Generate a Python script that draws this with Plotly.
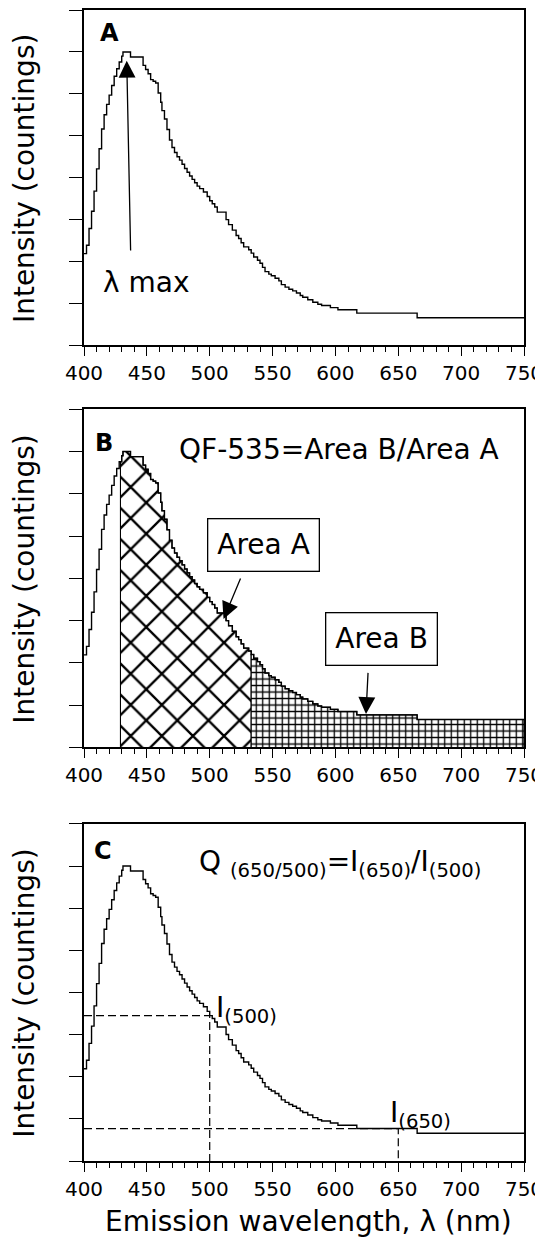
import plotly.graph_objects as go

# ---------------- data ----------------
wavelength_nm = [400, 402, 404, 406, 408, 410, 412, 414, 416, 418, 420, 422, 424, 426, 428,
                 430, 431, 437, 447, 449, 451, 453, 455, 457, 459, 461, 462, 464, 466, 468,
                 470, 472, 474, 476, 478, 480, 482, 484, 486, 488, 490, 492, 495, 498, 500,
                 502, 504, 506, 513, 515, 518, 521, 523, 525, 527, 531, 533, 535, 538, 540,
                 542, 544, 547, 549, 552, 555, 557, 560, 563, 566, 569, 572, 574, 578, 582,
                 586, 589, 596, 602, 617, 665, 750]
intensity = [2.19, 2.39, 2.79, 3.20, 3.68, 4.21, 4.69, 5.16, 5.50, 5.75, 5.97, 6.20, 6.42, 6.60, 6.76,
             6.90, 7.00, 6.88, 6.68, 6.58, 6.48, 6.34, 6.30, 6.26, 6.02, 5.80, 5.60, 5.40, 5.15, 4.90,
             4.72, 4.60, 4.50, 4.42, 4.32, 4.22, 4.13, 4.04, 3.96, 3.88, 3.80, 3.74, 3.66, 3.55, 3.45,
             3.38, 3.30, 3.18, 3.00, 2.88, 2.75, 2.62, 2.55, 2.45, 2.35, 2.28, 2.20, 2.11, 2.03, 1.96,
             1.86, 1.76, 1.70, 1.66, 1.60, 1.54, 1.45, 1.39, 1.34, 1.30, 1.25, 1.19, 1.15, 1.09, 1.03,
             0.98, 0.95, 0.90, 0.85, 0.77, 0.66, 0.66]

x_tick_values = [400, 450, 500, 550, 600, 650, 700, 750]
x_tick_labels = ["400", "450", "500", "550", "600", "650", "700", "750"]

area_a_start_nm = 429
area_split_nm = 533
area_b_end_nm = 750
ratio_low_nm = 500
ratio_high_nm = 650
lambda_max_nm = 434

FONT = "DejaVu Sans"


def value_at(nm):
    v = intensity[0]
    for w, y in zip(wavelength_nm, intensity):
        if w <= nm:
            v = y
        else:
            break
    return v


def region(lo, hi):
    xs = [lo] + [w for w in wavelength_nm if lo < w < hi] + [hi]
    ys = [value_at(x) for x in xs]
    return [lo] + xs + [hi], [0] + ys + [0]


fig = go.Figure()

curve_style = dict(mode="lines", line=dict(color="black", width=1.4, shape="hv"),
                   showlegend=False, hoverinfo="skip")

# Panel B hatched areas
ax_, ay_ = region(area_a_start_nm, area_split_nm)
fig.add_trace(go.Scatter(x=ax_, y=ay_, xaxis="x2", yaxis="y2", mode="lines",
                         line=dict(color="black", width=1.1, shape="hv"),
                         fill="toself", fillcolor="white",
                         fillpattern=dict(shape="x", size=22, solidity=0.2, fgopacity=1,
                                          fgcolor="black", bgcolor="white", fillmode="replace"),
                         showlegend=False, hoverinfo="skip"))
bx_, by_ = region(area_split_nm, area_b_end_nm)
fig.add_trace(go.Scatter(x=bx_, y=by_, xaxis="x2", yaxis="y2", mode="lines",
                         line=dict(color="black", width=1.1, shape="hv"),
                         fill="toself", fillcolor="white",
                         fillpattern=dict(shape="+", size=6.5, solidity=0.36, fgopacity=1,
                                          fgcolor="black", bgcolor="white", fillmode="replace"),
                         showlegend=False, hoverinfo="skip"))

# Spectra
for xa, ya in (("x", "y"), ("x2", "y2"), ("x3", "y3")):
    fig.add_trace(go.Scatter(x=wavelength_nm, y=intensity, xaxis=xa, yaxis=ya, **curve_style))

# Panel C dashed guides
i500 = value_at(ratio_low_nm)
i650 = value_at(ratio_high_nm)
dash = dict(color="black", width=1.2, dash="8px,4px")
for nm, val in ((ratio_low_nm, i500), (ratio_high_nm, i650)):
    fig.add_trace(go.Scatter(x=[wavelength_nm[0], nm, nm], y=[val, val, 0], xaxis="x3", yaxis="y3",
                             mode="lines", line=dash, showlegend=False, hoverinfo="skip"))

# ---------------- layout ----------------
# The page body has an 8 px margin, so the figure is drawn 8 px smaller and offset.
W, H = 535, 1231
ML, MR, MT, MB = 76, 16, 0, 78
PAGE_OFF = 8
PLOT_L = ML + PAGE_OFF          # page x of the plot's left edge
PLOT_W = W - ML - MR

domains = {"y": [0.7086, 1.0], "y2": [0.3593, 0.6531], "y3": [0.0, 0.2929]}

xaxis_style = dict(range=[400, 750], tickvals=x_tick_values, ticktext=x_tick_labels,
                   ticks="outside", ticklen=9, tickwidth=1.3, tickcolor="black",
                   minor=dict(ticks="outside", ticklen=5, tickwidth=1.1, dtick=10, tick0=400,
                              tickcolor="black"),
                   showline=True, linewidth=1.8, linecolor="black", mirror=True,
                   showgrid=False, zeroline=False, ticklabeloverflow="allow",
                   tickfont=dict(family=FONT, size=20, color="black"))
yaxis_style = dict(range=[0, 8], tick0=0, dtick=1, ticks="outside", ticklen=13, tickwidth=1.3,
                   tickcolor="black", showticklabels=False, showline=True, linewidth=1.5,
                   linecolor="black", mirror=True, showgrid=False, zeroline=False)

layout = dict(width=W, height=H, margin=dict(l=ML, r=MR, t=MT, b=MB, pad=0),
              paper_bgcolor="white", plot_bgcolor="white", showlegend=False,
              font=dict(family=FONT, color="black"))
layout["xaxis"] = dict(xaxis_style, anchor="y")
layout["xaxis2"] = dict(xaxis_style, anchor="y2")
layout["xaxis3"] = dict(xaxis_style, anchor="y3")
layout["yaxis"] = dict(yaxis_style, domain=domains["y"], anchor="x")
layout["yaxis2"] = dict(yaxis_style, domain=domains["y2"], anchor="x2")
layout["yaxis3"] = dict(yaxis_style, domain=domains["y3"], anchor="x3")
fig.update_layout(**layout)

big = dict(family=FONT, size=28, color="black")
ann = []

# Panel letters
for xr, yr, letter, xv, yv in (("x", "y", "A", 420.5, 7.45), ("x2", "y2", "B", 415.6, 7.21),
                               ("x3", "y3", "C", 415.0, 7.35)):
    ann.append(dict(xref=xr, yref=yr, x=xv, y=yv, text="<b>%s</b>" % letter, showarrow=False,
                    font=dict(family=FONT, size=24, color="black"),
                    xanchor="center", yanchor="middle"))

# y titles
for yr, dom in domains.items():
    ann.append(dict(xref="paper", yref="paper", x=(24 - PLOT_L) / PLOT_W,
                    y=(dom[0] + dom[1]) / 2, text="Intensity (countings)", textangle=-90,
                    showarrow=False, font=big, xanchor="center", yanchor="middle"))

# x title
ann.append(dict(xref="paper", yref="paper", x=(310 - PLOT_L) / PLOT_W, y=-0.0529,
                text="Emission wavelength, \u03bb (nm)", showarrow=False, font=big,
                xanchor="center", yanchor="middle"))

arrow = dict(text="", showarrow=True, arrowhead=2, arrowsize=2.6, arrowwidth=1.3,
             arrowcolor="black", standoff=0)

# Panel A
ann.append(dict(xref="x", yref="y", x=449.3, y=1.51, text="\u03bb max", showarrow=False,
                font=big, xanchor="center", yanchor="middle"))
ann.append(dict(arrow, xref="x", yref="y", x=lambda_max_nm, y=6.79, axref="x", ayref="y",
                ax=437.1, ay=2.23))

# Panel B
ann.append(dict(xref="x2", yref="y2", x=474.2, y=7.04, text="QF-535=Area B/Area A",
                showarrow=False, font=big, xanchor="left", yanchor="middle"))
ann.append(dict(xref="x2", yref="y2", x=542.9, y=4.80, text="Area A", showarrow=False,
                font=big, xanchor="center", yanchor="middle", bgcolor="white",
                bordercolor="black", borderwidth=1.3, borderpad=9))
ann.append(dict(xref="x2", yref="y2", x=636.8, y=2.57, text="Area B", showarrow=False,
                font=big, xanchor="center", yanchor="middle", bgcolor="white",
                bordercolor="black", borderwidth=1.3, borderpad=9))
ann.append(dict(arrow, xref="x2", yref="y2", x=511, y=3.04, axref="x2", ayref="y2",
                ax=525, ay=4.03))
ann.append(dict(arrow, xref="x2", yref="y2", x=624.3, y=0.79, axref="x2", ayref="y2",
                ax=626, ay=1.80))

# Panel C
ann.append(dict(xref="x3", yref="y3", x=490.2, y=7.05,
                text="Q <sub>(650/500)</sub>=I<sub>(650)</sub>/I<sub>(500)</sub>",
                showarrow=False, font=big, xanchor="left", yanchor="middle"))
ann.append(dict(xref="x3", yref="y3", x=503.2, y=3.6, text="I<sub>(500)</sub>",
                showarrow=False, font=big, xanchor="left", yanchor="middle"))
ann.append(dict(xref="x3", yref="y3", x=642.0, y=1.1, text="I<sub>(650)</sub>",
                showarrow=False, font=big, xanchor="left", yanchor="middle"))

fig.update_layout(annotations=ann)
fig.write_html("out.html")
